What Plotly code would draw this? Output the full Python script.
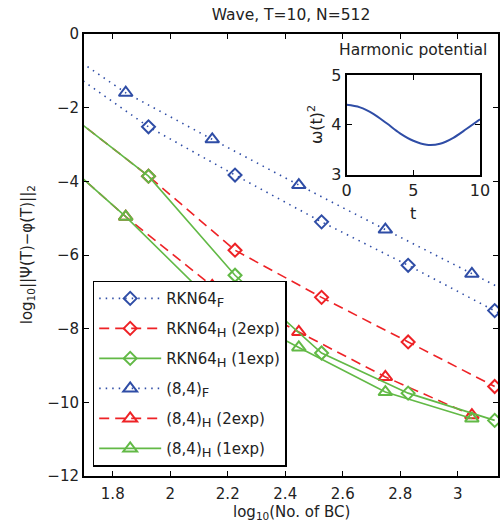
import plotly.graph_objects as go

# ---------------- data ----------------
x_rkn = [1.6232, 1.9243, 2.2253, 2.5263, 2.8274, 3.1284, 3.4294]
rkn64_F = [-0.87, -2.52, -3.83, -5.10, -6.28, -7.51, -8.75]
x_rkn_h = [1.6232, 1.9243, 2.2253, 2.5263, 2.8274, 3.1284]
rkn64_H_2exp = [-2.03, -3.86, -5.87, -7.15, -8.36, -9.57]
rkn64_H_1exp = [-2.03, -3.86, -6.55, -8.66, -9.75, -10.49]

x_84 = [1.5441, 1.8451, 2.1461, 2.4472, 2.7482, 3.0492, 3.3502]
m84_F = [0.01, -1.595, -2.86, -4.10, -5.31, -6.51, -7.70]
x_84_h = [1.5441, 1.8451, 2.1461, 2.4472, 2.7482, 3.0492]
m84_H_2exp = [-2.87, -4.96, -6.84, -8.09, -9.31, -10.35]
m84_H_1exp = [-2.87, -4.96, -7.27, -8.51, -9.72, -10.44]

t_inset = [0, 1, 2, 3, 4, 5, 6, 7, 8, 9, 10]
omega2 = [4.40, 4.35, 4.22, 4.03, 3.83, 3.68, 3.60, 3.62, 3.74, 3.92, 4.11]

x_ticks = [1.8, 2.0, 2.2, 2.4, 2.6, 2.8, 3.0]
x_tick_text = ["1.8", "2", "2.2", "2.4", "2.6", "2.8", "3"]
y_ticks = [0, -2, -4, -6, -8, -10, -12]

BLUE = "#2f4da6"
RED = "#ee2226"
GREEN = "#62b946"
TXT = "#222"
FONT = "DejaVu Sans, Liberation Sans, Arial, sans-serif"

DOT = "1.5px,5px"
DASH = "10px,6px"

SUB = '<sub><span style="font-size:13px">{}</span></sub>'

fig = go.Figure()


def add(x, y, name, color, dash, symbol, rank, size):
    fig.add_trace(go.Scatter(
        x=x, y=y, name=name, mode="lines+markers",
        line=dict(color=color, width=1.6, dash=dash),
        marker=dict(symbol=symbol, size=size, color=color,
                    line=dict(color=color, width=2)),
        legendrank=rank, legendgroup="g%d" % rank,
        xaxis="x", yaxis="y",
    ))


add(x_rkn, rkn64_F, "RKN64" + SUB.format("F"), BLUE, DOT, "diamond-open", 1, 10)
add(x_84, m84_F, "(8,4)" + SUB.format("F"), BLUE, DOT, "triangle-up-open", 4, 12)
add(x_rkn_h, rkn64_H_2exp, "RKN64" + SUB.format("H") + " (2exp)", RED, DASH, "diamond-open", 2, 10)
add(x_84_h, m84_H_2exp, "(8,4)" + SUB.format("H") + " (2exp)", RED, DASH, "triangle-up-open", 5, 12)
add(x_rkn_h, rkn64_H_1exp, "RKN64" + SUB.format("H") + " (1exp)", GREEN, "solid", "diamond-open", 3, 10)
add(x_84_h, m84_H_1exp, "(8,4)" + SUB.format("H") + " (1exp)", GREEN, "solid", "triangle-up-open", 6, 12)

fig.add_trace(go.Scatter(
    x=t_inset, y=omega2, mode="lines",
    line=dict(color=BLUE, width=2, shape="spline", smoothing=1.0),
    showlegend=False, xaxis="x2", yaxis="y2",
))

axis_common = dict(showline=True, linecolor="black", linewidth=2, mirror="ticks",
                   ticks="inside", tickcolor="black", ticklen=5, tickwidth=1.2,
                   showgrid=False, zeroline=False, automargin=False,
                   tickfont=dict(family=FONT, size=15, color=TXT))
inset_common = {**axis_common, "tickfont": dict(family=FONT, size=16, color=TXT)}

fig.update_layout(
    width=500, height=528,
    margin=dict(l=84, r=2, t=34, b=52),
    paper_bgcolor="white", plot_bgcolor="white",
    font=dict(family=FONT, size=15, color=TXT),
    title=dict(text="Wave, T=10, N=512", x=0.5, xref="paper", y=0.972, yanchor="middle",
               font=dict(family=FONT, size=15.5, color=TXT)),
    xaxis=dict(range=[1.7, 3.14], tickvals=x_ticks, ticktext=x_tick_text,
               domain=[0, 1], ticklabelstandoff=3, **axis_common),
    yaxis=dict(range=[-12, 0], tickvals=y_ticks, domain=[0, 1], **axis_common),
    xaxis2=dict(range=[0, 10], tickvals=[0, 5, 10], domain=[0.6345, 0.9565], anchor="y2",
                **inset_common),
    yaxis2=dict(range=[3, 5], tickvals=[3, 4, 5], domain=[0.6817, 0.9074], anchor="x2",
                **inset_common),
    legend=dict(x=0.021, y=0.442, xanchor="left", yanchor="top",
                bgcolor="white", bordercolor="black", borderwidth=1.5,
                font=dict(family=FONT, size=15, color=TXT),
                itemwidth=62, tracegroupgap=7.5, traceorder="grouped"),
    annotations=[
        dict(text="Harmonic potential", x=0.7955, y=0.963, xref="paper", yref="paper",
             showarrow=False, font=dict(family=FONT, size=15.5, color=TXT),
             xanchor="center", yanchor="middle"),
        dict(text="log<sub>10</sub>(No. of BC)", x=0.5, y=-0.083, xref="paper", yref="paper",
             showarrow=False, font=dict(family=FONT, size=15, color=TXT),
             xanchor="center", yanchor="middle"),
        dict(text="log<sub>10</sub>||Ψ(T)−φ(T)||<sub>2</sub>", x=-0.137, y=0.5,
             xref="paper", yref="paper", textangle=-90,
             showarrow=False, font=dict(family=FONT, size=15, color=TXT),
             xanchor="center", yanchor="middle"),
        dict(text="ω(t)<sup>2</sup>", x=0.558, y=0.794, xref="paper", yref="paper",
             textangle=-90, showarrow=False, font=dict(family=FONT, size=16, color=TXT),
             xanchor="center", yanchor="middle"),
        dict(text="t", x=0.795, y=0.595, xref="paper", yref="paper",
             showarrow=False, font=dict(family=FONT, size=16, color=TXT),
             xanchor="center", yanchor="middle"),
    ],
)

fig.write_html("out.html", config={"displayModeBar": False},
               post_script="document.body.style.margin='0px';")
